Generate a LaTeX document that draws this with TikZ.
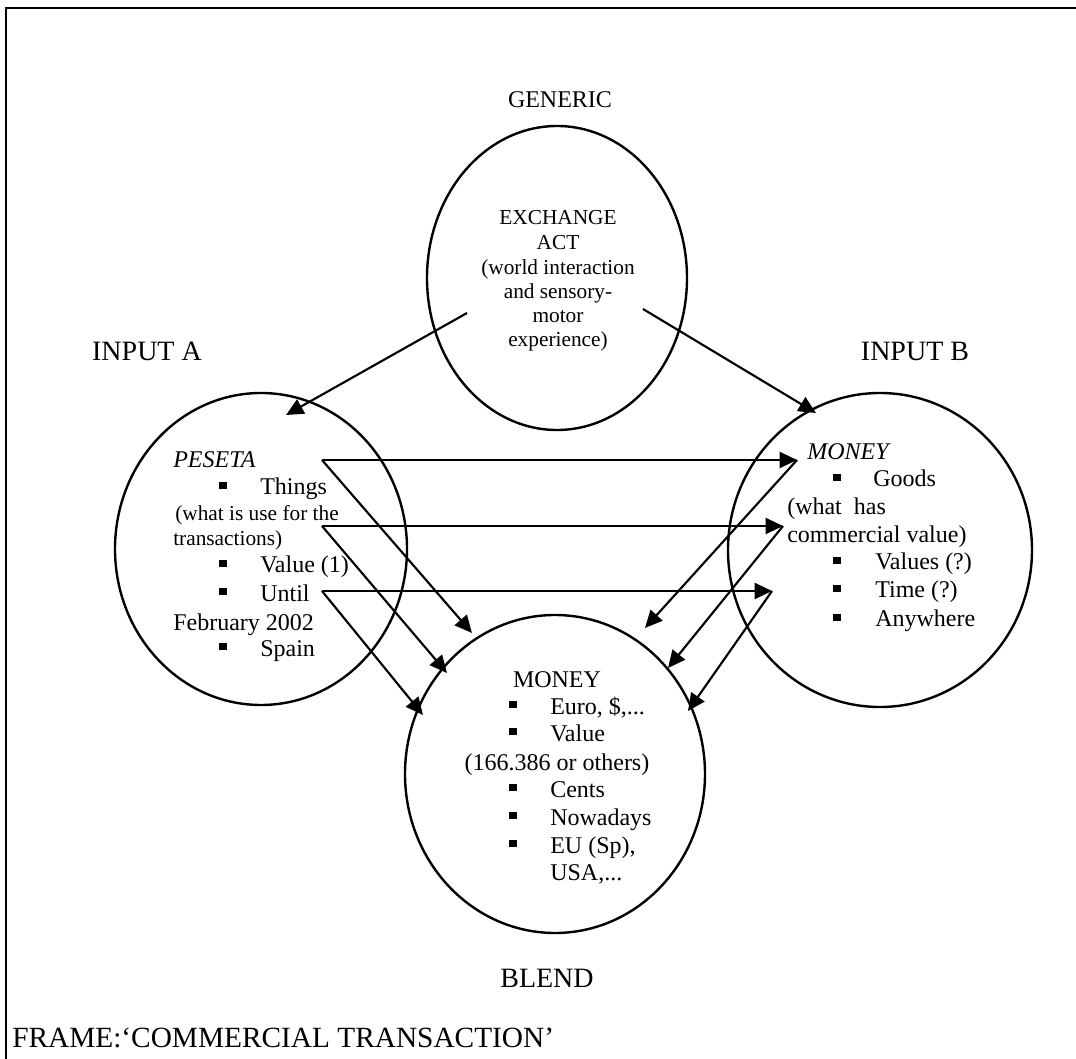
\documentclass[tikz,border=0pt]{standalone}
\usepackage{fontspec}
\setmainfont{Liberation Serif}
\usetikzlibrary{arrows.meta,shapes.geometric}

\newcommand{\sq}{\rule[0.12em]{0.3em}{0.3em}}

\tikzset{
  space/.style={ellipse, draw, line width=1.8pt, inner sep=0pt},
  link/.style={line width=1.6pt, -{Triangle[length=13pt,width=12pt]}},
  inner/.style={font=\fontsize{18pt}{20pt}\selectfont, inner sep=0pt},
  small/.style={font=\fontsize{16pt}{18pt}\selectfont, inner sep=0pt},
  genl/.style={font=\fontsize{16pt}{18pt}\selectfont, inner sep=0pt, anchor=base},
  title/.style={font=\fontsize{21pt}{24pt}\selectfont, inner sep=0pt},
  dot/.style={inner sep=0pt, font=\fontsize{18pt}{20pt}\selectfont},
}

\begin{document}
\begin{tikzpicture}[x=0.75pt,y=-0.75pt]
\useasboundingbox (0,0) rectangle (1076,1059);

% outer frame (top and left edges)
\draw[line width=1.6pt] (6,1059) -- (6,8) -- (1076,8);

% the four mental spaces
\node[space, minimum width=195pt, minimum height=228pt] (gen) at (557,278) {};
\node[space, minimum width=219pt, minimum height=234pt] (inA) at (261,549) {};
\node[space, minimum width=228pt, minimum height=235.5pt] (inB) at (880,550) {};
\node[space, minimum width=225pt, minimum height=238.5pt] (bl)  at (555,774) {};

% space labels
\node[title, font=\fontsize{18pt}{20pt}\selectfont] (lgen) at (560,100) {GENERIC};
\node[title, anchor=base] (lA) at (147,361) {INPUT A};
\node[title, anchor=base] (lB) at (915,361) {INPUT B};
\node[title] (lbl) at (547,978) {BLEND};
\node[title, font=\fontsize{22pt}{24pt}\selectfont, anchor=west] (lframe) at (12,1038) {FRAME:‘COMMERCIAL TRANSACTION’};

% generic space contents
\node[genl] (g1) at (558,225) {EXCHANGE};
\node[genl] (g2) at (558,250) {ACT};
\node[genl] (g3) at (558,275) {(world interaction};
\node[genl] (g4) at (558,299) {and sensory-};
\node[genl] (g5) at (558,323) {motor};
\node[genl] (g6) at (558,347) {experience)};

% input A contents
\node[inner, anchor=base west] (a0) at (173,468) {\itshape PESETA};
\node[dot] (ad1) at (223,487) {\sq};
\node[inner, anchor=base west] (a1) at (260,495) {Things};
\node[small, anchor=base west] (a2) at (175,521) {(what is use for the};
\node[small, anchor=base west] (a3) at (173,546) {transactions)};
\node[dot] (ad2) at (223,565) {\sq};
\node[inner, anchor=base west] (a4) at (260,573) {Value (1)};
\node[dot] (ad3) at (223,593) {\sq};
\node[inner, anchor=base west] (a5) at (260,601) {Until};
\node[inner, anchor=base west] (a6) at (173,630) {February 2002};
\node[dot] (ad4) at (223,648) {\sq};
\node[inner, anchor=base west] (a7) at (260,656) {Spain};

% input B contents
\node[inner, anchor=base west] (b0) at (807,460) {\itshape MONEY};
\node[dot] (bd1) at (837,479) {\sq};
\node[inner, anchor=base west] (b1) at (873,487) {Goods};
\node[inner, anchor=base west] (b2) at (787,515) {(what\ \ has};
\node[inner, anchor=base west] (b3) at (787,543) {commercial value)};
\node[dot] (bd2) at (837,562) {\sq};
\node[inner, anchor=base west] (b4) at (875,570) {Values (?)};
\node[dot] (bd3) at (837,590) {\sq};
\node[inner, anchor=base west] (b5) at (875,598) {Time (?)};
\node[dot] (bd4) at (837,619) {\sq};
\node[inner, anchor=base west] (b6) at (875,627) {Anywhere};

% blend contents
\node[inner, anchor=base] (c0) at (557,687) {MONEY};
\node[dot] (cd1) at (513,706) {\sq};
\node[inner, anchor=base west] (c1) at (550,714) {Euro, \$,...};
\node[dot] (cd2) at (513,733) {\sq};
\node[inner, anchor=base west] (c2) at (550,741) {Value};
\node[inner, anchor=base] (c3) at (557,770) {(166.386 or others)};
\node[dot] (cd3) at (513,789) {\sq};
\node[inner, anchor=base west] (c4) at (550,797) {Cents};
\node[dot] (cd4) at (513,817) {\sq};
\node[inner, anchor=base west] (c5) at (550,825) {Nowadays};
\node[dot] (cd5) at (513,845) {\sq};
\node[inner, anchor=base west] (c6) at (550,853) {EU (Sp),};
\node[inner, anchor=base west] (c7) at (550,880) {USA,...};

% connector end points
\coordinate (gs1) at (467,313);
\coordinate (gs2) at (643,309);
\coordinate (tA) at (286,415);
\coordinate (tB) at (816,413);
\coordinate (s1) at (322,460);
\coordinate (s2) at (322,526);
\coordinate (s3) at (322,591);
\coordinate (h1) at (797,460);
\coordinate (h2) at (783,526);
\coordinate (h3) at (772,591);
\coordinate (l1) at (472,633);
\coordinate (l2) at (447,673);
\coordinate (l3) at (423,715);
\coordinate (r1) at (645,628);
\coordinate (r2) at (668,668);
\coordinate (r3) at (688,711);

% generic space projects onto both inputs
\draw[link] (gs1) -- (tA);
\draw[link] (gs2) -- (tB);

% cross-space mappings
\draw[link] (s1) -- (h1);
\draw[link] (s2) -- (h2);
\draw[link] (s3) -- (h3);

% input A projects into the blend
\draw[link] (s1) -- (l1);
\draw[link] (s2) -- (l2);
\draw[link] (s3) -- (l3);

% input B projects into the blend
\draw[link] (h1) -- (r1);
\draw[link] (h2) -- (r2);
\draw[link] (h3) -- (r3);
\end{tikzpicture}
\end{document}
